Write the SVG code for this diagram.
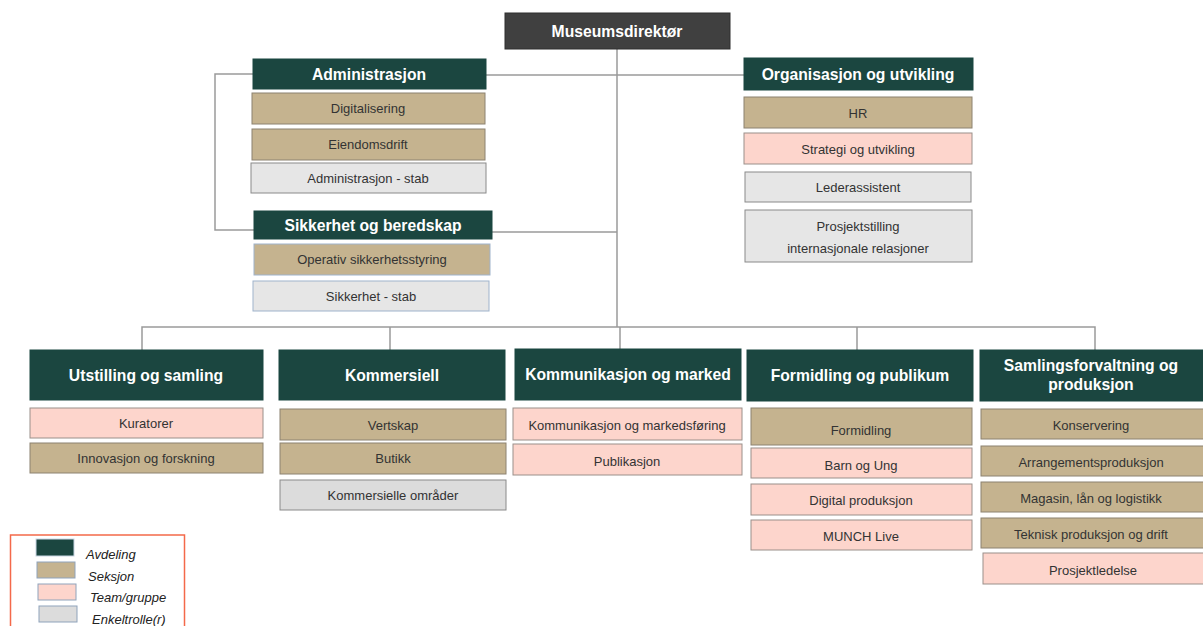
<svg xmlns="http://www.w3.org/2000/svg" width="1203" height="626" viewBox="0 0 1203 626">
<style>
text{font-family:"Liberation Sans",Arial,sans-serif;text-anchor:middle;dominant-baseline:central}
.h{fill:#1b4640;stroke:#1b4640}
.ht{fill:#fff;font-weight:bold;font-size:15.7px}
.s{fill:#c5b38f;stroke:#8c8270;stroke-width:1}
.t{fill:#fdd5cc;stroke:#9a8f8a;stroke-width:1}
.g{fill:#e6e6e6;stroke:#8a8a8a;stroke-width:1}
.b{stroke:#9fb3cc}
.bt{fill:#333;font-size:13px}
.c{fill:none;stroke:#9a9a9a;stroke-width:1.5}
.lg{font-size:13px;font-style:italic;fill:#222;text-anchor:start}
</style>
<g id="connectors">
<path class="c" d="M617 49V327"/>
<path class="c" d="M486 75H744"/>
<path class="c" d="M253 74H215V230H255"/>
<path class="c" d="M492 232H617"/>
<path class="c" d="M142 350V327H1095V350"/>
<path class="c" d="M390 327V350"/>
<path class="c" d="M620 327V349"/>
<path class="c" d="M857 327V350"/>
</g>
<g id="director">
<rect x="505" y="13" width="225" height="36" fill="#404040" stroke="#2e2e2e"/>
<text class="ht" x="617" y="31">Museumsdirektør</text>
</g>
<g id="administrasjon">
<rect class="h" x="253" y="59" width="233" height="30"/>
<text class="ht" x="369" y="74">Administrasjon</text>
<rect class="s" x="252" y="93" width="233" height="31"/>
<text class="bt" x="368" y="108">Digitalisering</text>
<rect class="s" x="252" y="129" width="233" height="31"/>
<text class="bt" x="368" y="144">Eiendomsdrift</text>
<rect class="g" x="251" y="163" width="235" height="30"/>
<text class="bt" x="368" y="178">Administrasjon - stab</text>
</g>
<g id="sikkerhet">
<rect class="h" x="254" y="211" width="238" height="28"/>
<text class="ht" x="373" y="225">Sikkerhet og beredskap</text>
<rect class="s b" x="254" y="244" width="236" height="31"/>
<text class="bt" x="372" y="259">Operativ sikkerhetsstyring</text>
<rect class="g b" x="253" y="281" width="236" height="30"/>
<text class="bt" x="371" y="296">Sikkerhet - stab</text>
</g>
<g id="organisasjon">
<rect class="h" x="744" y="58" width="229" height="32"/>
<text class="ht" x="858" y="74">Organisasjon og utvikling</text>
<rect class="s" x="744" y="97" width="228" height="31"/>
<text class="bt" x="858" y="113">HR</text>
<rect class="t" x="744" y="133" width="228" height="31"/>
<text class="bt" x="858" y="149">Strategi og utvikling</text>
<rect class="g" x="745" y="172" width="226" height="30"/>
<text class="bt" x="858" y="187">Lederassistent</text>
<rect class="g" x="745" y="210" width="227" height="52"/>
<text class="bt" x="858" y="226">Prosjektstilling</text>
<text class="bt" x="858" y="248">internasjonale relasjoner</text>
</g>
<g id="utstilling">
<rect class="h" x="30" y="350" width="233" height="50"/>
<text class="ht" x="146" y="375">Utstilling og samling</text>
<rect class="t" x="30" y="408" width="233" height="30"/>
<text class="bt" x="146" y="423">Kuratorer</text>
<rect class="s" x="30" y="443" width="233" height="30"/>
<text class="bt" x="146" y="458">Innovasjon og forskning</text>
</g>
<g id="kommersiell">
<rect class="h" x="279" y="350" width="226" height="50"/>
<text class="ht" x="392" y="375">Kommersiell</text>
<rect class="s" x="280" y="409" width="226" height="31"/>
<text class="bt" x="393" y="425">Vertskap</text>
<rect class="s" x="280" y="443" width="226" height="31"/>
<text class="bt" x="393" y="458">Butikk</text>
<rect class="g" x="280" y="480" width="226" height="30" style="fill:#dcdcdc"/>
<text class="bt" x="393" y="495">Kommersielle områder</text>
</g>
<g id="kommunikasjon">
<rect class="h" x="515" y="349" width="226" height="51"/>
<text class="ht" x="628" y="374">Kommunikasjon og marked</text>
<rect class="t" x="513" y="408" width="229" height="32"/>
<text class="bt" x="627" y="425">Kommunikasjon og markedsføring</text>
<rect class="t" x="513" y="444" width="229" height="31"/>
<text class="bt" x="627" y="461">Publikasjon</text>
</g>
<g id="formidling">
<rect class="h" x="747" y="350" width="226" height="51"/>
<text class="ht" x="860" y="375">Formidling og publikum</text>
<rect class="s" x="751" y="408" width="221" height="37"/>
<text class="bt" x="861" y="430">Formidling</text>
<rect class="t" x="751" y="448" width="221" height="30"/>
<text class="bt" x="861" y="465">Barn og Ung</text>
<rect class="t" x="751" y="484" width="221" height="31"/>
<text class="bt" x="861" y="500">Digital produksjon</text>
<rect class="t" x="751" y="520" width="221" height="30"/>
<text class="bt" x="861" y="536">MUNCH Live</text>
</g>
<g id="samlingsforvaltning">
<rect class="h" x="980" y="350" width="224" height="51"/>
<text class="ht" x="1091" y="365">Samlingsforvaltning og</text>
<text class="ht" x="1091" y="384">produksjon</text>
<rect class="s" x="981" y="409" width="223" height="30"/>
<text class="bt" x="1091" y="425">Konservering</text>
<rect class="s" x="981" y="446" width="223" height="30"/>
<text class="bt" x="1091" y="462">Arrangementsproduksjon</text>
<rect class="s" x="981" y="482" width="223" height="30"/>
<text class="bt" x="1091" y="498">Magasin, lån og logistikk</text>
<rect class="s" x="981" y="518" width="223" height="30"/>
<text class="bt" x="1091" y="534">Teknisk produksjon og drift</text>
<rect class="t" x="983" y="553" width="221" height="31"/>
<text class="bt" x="1093" y="570">Prosjektledelse</text>
</g>
<g id="legend">
<rect x="10.5" y="535" width="174" height="95" fill="#fff" stroke="#f4694a" stroke-width="1.5"/>
<rect x="36" y="539" width="38" height="17" fill="#1b4640" stroke="#c9d6e3"/>
<text class="lg" x="86" y="554">Avdeling</text>
<rect x="37" y="562" width="38" height="16" fill="#c5b38f" stroke="#8fa3bb"/>
<text class="lg" x="88" y="576">Seksjon</text>
<rect x="38" y="584" width="38" height="16" fill="#fdd5cc" stroke="#8fa3bb"/>
<text class="lg" x="90" y="597">Team/gruppe</text>
<rect x="39" y="606" width="38" height="16" fill="#dcdcdc" stroke="#8fa3bb"/>
<text class="lg" x="92" y="619">Enkeltrolle(r)</text>
</g>
</svg>
